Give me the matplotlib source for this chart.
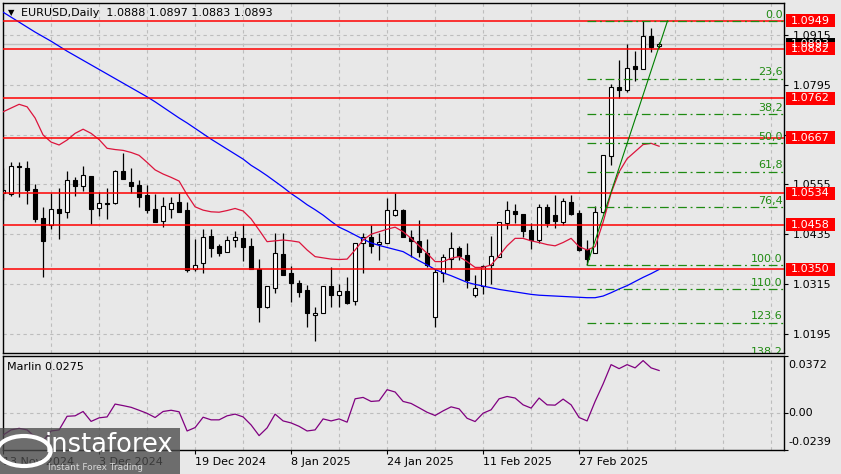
import matplotlib
matplotlib.use("Agg")
import matplotlib.pyplot as plt
from matplotlib.patches import Rectangle, Circle
from matplotlib.transforms import blended_transform_factory

# EURUSD daily bars
opens = [1.0534, 1.0532, 1.0599, 1.0595, 1.0544, 1.0474, 1.0456, 1.0495, 1.0488, 1.0566,
         1.0552, 1.0575, 1.0497, 1.0510, 1.0509, 1.0587, 1.0561, 1.0554, 1.0529, 1.0496,
         1.0468, 1.0496, 1.0512, 1.0493, 1.0352, 1.0365, 1.0431, 1.0407, 1.0391, 1.0420,
         1.0426, 1.0407, 1.0352, 1.0260, 1.0306, 1.0387, 1.0341, 1.0318, 1.0301, 1.0240,
         1.0244, 1.0309, 1.0288, 1.0298, 1.0273, 1.0415, 1.0428, 1.0411, 1.0415, 1.0481,
         1.0493, 1.0428, 1.0419, 1.0390, 1.0235, 1.0342, 1.0375, 1.0401, 1.0384, 1.0289,
         1.0309, 1.0361, 1.0381, 1.0463, 1.0491, 1.0483, 1.0445, 1.0421, 1.0500, 1.0481,
         1.0465, 1.0512, 1.0487, 1.0399, 1.0389, 1.0488, 1.0624, 1.0789, 1.0782, 1.0840,
         1.0834, 1.0913, 1.0888]
highs = [1.0595, 1.0608, 1.0609, 1.0611, 1.0556, 1.0501, 1.0534, 1.0546, 1.0587, 1.0572,
         1.0599, 1.0576, 1.0537, 1.0547, 1.0590, 1.0631, 1.0594, 1.0566, 1.0554, 1.0532,
         1.0525, 1.0524, 1.0534, 1.0513, 1.0423, 1.0447, 1.0447, 1.0411, 1.0431, 1.0443,
         1.0460, 1.0425, 1.0375, 1.0310, 1.0437, 1.0437, 1.0358, 1.0325, 1.0313, 1.0259,
         1.0310, 1.0355, 1.0315, 1.0333, 1.0415, 1.0437, 1.0457, 1.0437, 1.0522, 1.0534,
         1.0495, 1.0445, 1.0469, 1.0423, 1.0350, 1.0387, 1.0441, 1.0407, 1.0413, 1.0337,
         1.0361, 1.0431, 1.0464, 1.0515, 1.0508, 1.0483, 1.0461, 1.0507, 1.0507, 1.0529,
         1.0522, 1.0529, 1.0493, 1.0421, 1.0503, 1.0627, 1.0797, 1.0855, 1.0893, 1.0877,
         1.0949, 1.0931, 1.0897]
lows = [1.0517, 1.0528, 1.0525, 1.0507, 1.0464, 1.0333, 1.0448, 1.0423, 1.0475, 1.0528,
        1.0540, 1.0460, 1.0479, 1.0472, 1.0507, 1.0567, 1.0534, 1.0500, 1.0487, 1.0464,
        1.0453, 1.0475, 1.0489, 1.0345, 1.0346, 1.0342, 1.0381, 1.0383, 1.0391, 1.0405,
        1.0371, 1.0350, 1.0224, 1.0256, 1.0294, 1.0337, 1.0272, 1.0283, 1.0212, 1.0178,
        1.0244, 1.0260, 1.0259, 1.0267, 1.0264, 1.0342, 1.0390, 1.0373, 1.0413, 1.0479,
        1.0429, 1.0381, 1.0379, 1.0357, 1.0211, 1.0321, 1.0352, 1.0373, 1.0305, 1.0284,
        1.0291, 1.0315, 1.0381, 1.0447, 1.0461, 1.0428, 1.0399, 1.0415, 1.0452, 1.0449,
        1.0457, 1.0481, 1.0395, 1.0361, 1.0389, 1.0486, 1.0602, 1.0762, 1.0778, 1.0805,
        1.0834, 1.0875, 1.0883]
closes = [1.0542, 1.0599, 1.0596, 1.0542, 1.0472, 1.0419, 1.0495, 1.0487, 1.0565, 1.0552,
          1.0578, 1.0496, 1.0510, 1.0507, 1.0587, 1.0567, 1.0552, 1.0525, 1.0493, 1.0464,
          1.0502, 1.0509, 1.0489, 1.0349, 1.0362, 1.0428, 1.0402, 1.0390, 1.0420, 1.0428,
          1.0405, 1.0350, 1.0260, 1.0310, 1.0390, 1.0337, 1.0317, 1.0296, 1.0244, 1.0246,
          1.0309, 1.0288, 1.0298, 1.0270, 1.0415, 1.0428, 1.0407, 1.0416, 1.0493, 1.0493,
          1.0429, 1.0419, 1.0391, 1.0362, 1.0343, 1.0379, 1.0401, 1.0382, 1.0325, 1.0305,
          1.0359, 1.0382, 1.0464, 1.0493, 1.0483, 1.0443, 1.0421, 1.0500, 1.0461, 1.0468,
          1.0515, 1.0483, 1.0397, 1.0375, 1.0489, 1.0626, 1.0789, 1.0782, 1.0835, 1.0834,
          1.0913, 1.0887, 1.0893]

# moving averages
ma_slow = [1.0970, 1.0958, 1.0946, 1.0934, 1.0922, 1.0911, 1.0900, 1.0888, 1.0876, 1.0865,
           1.0854, 1.0843, 1.0832, 1.0821, 1.0810, 1.0799, 1.0788, 1.0777, 1.0766, 1.0754,
           1.0741, 1.0728, 1.0715, 1.0703, 1.0690, 1.0677, 1.0664, 1.0652, 1.0640, 1.0628,
           1.0616, 1.0601, 1.0589, 1.0576, 1.0562, 1.0548, 1.0533, 1.0520, 1.0506, 1.0494,
           1.0481, 1.0466, 1.0452, 1.0443, 1.0433, 1.0423, 1.0414, 1.0408, 1.0403, 1.0398,
           1.0393, 1.0382, 1.0371, 1.0361, 1.0350, 1.0342, 1.0335, 1.0327, 1.0319, 1.0314,
           1.0310, 1.0306, 1.0302, 1.0299, 1.0296, 1.0293, 1.0290, 1.0288, 1.0287, 1.0286,
           1.0285, 1.0284, 1.0283, 1.0282, 1.0282, 1.0286, 1.0294, 1.0303, 1.0311, 1.0321,
           1.0331, 1.0340, 1.0350]
ma_fast = [1.0730, 1.0739, 1.0748, 1.0742, 1.0715, 1.0674, 1.0657, 1.0650, 1.0662, 1.0678,
           1.0688, 1.0678, 1.0663, 1.0642, 1.0639, 1.0637, 1.0632, 1.0625, 1.0608, 1.0590,
           1.0580, 1.0572, 1.0563, 1.0530, 1.0501, 1.0493, 1.0489, 1.0488, 1.0492, 1.0497,
           1.0491, 1.0472, 1.0445, 1.0417, 1.0419, 1.0421, 1.0419, 1.0416, 1.0397, 1.0381,
           1.0378, 1.0375, 1.0374, 1.0375, 1.0397, 1.0421, 1.0435, 1.0441, 1.0447, 1.0452,
           1.0441, 1.0425, 1.0407, 1.0389, 1.0369, 1.0369, 1.0377, 1.0381, 1.0369, 1.0355,
           1.0355, 1.0361, 1.0383, 1.0407, 1.0425, 1.0425, 1.0419, 1.0415, 1.0410, 1.0407,
           1.0415, 1.0425, 1.0405, 1.0397, 1.0405, 1.0464, 1.0534, 1.0585, 1.0617, 1.0634,
           1.0651, 1.0654, 1.0647]

# Marlin oscillator
marlin = [-0.0142, -0.0109, -0.0099, -0.0109, -0.0155, -0.0181, -0.0116, -0.0109, -0.0021, -0.0018,
          0.0010, -0.0054, -0.0031, -0.0025, 0.0058, 0.0048, 0.0037, 0.0018, -0.0002, -0.0029,
          0.0010, 0.0018, 0.0008, -0.0116, -0.0094, -0.0027, -0.0044, -0.0044, -0.0018, -0.0007,
          -0.0025, -0.0077, -0.0146, -0.0096, -0.0007, -0.0051, -0.0064, -0.0086, -0.0116, -0.0109,
          -0.0038, -0.0051, -0.0038, -0.0059, 0.0092, 0.0101, 0.0075, 0.0079, 0.0151, 0.0136,
          0.0075, 0.0062, 0.0034, 0.0005, -0.0016, 0.0014, 0.0040, 0.0027, -0.0034, -0.0055,
          -0.0001, 0.0021, 0.0092, 0.0107, 0.0097, 0.0053, 0.0032, 0.0097, 0.0053, 0.0051,
          0.0090, 0.0053, -0.0029, -0.0051, 0.0075, 0.0188, 0.0313, 0.0287, 0.0313, 0.0292,
          0.0339, 0.0292, 0.0275]

date_labels = ["13 Nov 2024", "3 Dec 2024", "19 Dec 2024", "8 Jan 2025",
               "24 Jan 2025", "11 Feb 2025", "27 Feb 2025"]
date_bars = [0, 12, 24, 36, 48, 60, 72]

price_ticks = [1.0195, 1.0315, 1.0435, 1.0555, 1.0675, 1.0795, 1.0915]
levels = [1.0949, 1.0882, 1.0762, 1.0667, 1.0534, 1.0458, 1.0350]
level_labels = ["1.0949", "1.0882", "1.0762", "1.0667", "1.0534", "1.0458", "1.0350"]

fib_labels = ["0.0", "23,6", "38,2", "50,0", "61,8", "76,4", "100.0", "110.0", "123.6", "138.2"]
fib_prices = [1.0949, 1.0810, 1.0724, 1.0655, 1.0586, 1.0500, 1.0361, 1.0302, 1.0222, 1.0136]
fib_start = 73
trend_x = [73, 83.05]
trend_y = [1.0361, 1.0949]

bid = 1.0893
marlin_ticks = [0.0372, 0.0, -0.0239]
marlin_labels = ["0.0372", "0.00", "-0.0239"]

BG = "#e8e8e8"
GRID = "#bdbdbd"
FIB = "#1f8a12"

plt.rcParams["font.family"] = "DejaVu Sans"
plt.rcParams["font.size"] = 7.5

W, H = 841, 474
fig = plt.figure(figsize=(W / 100, H / 100), dpi=100, facecolor=BG)

left, right = 2.7, 784.3
ax = fig.add_axes([left / W, 1 - 353 / H, (right - left) / W, (353 - 2.5) / H], facecolor=BG)
ax2 = fig.add_axes([left / W, 1 - 450 / H, (right - left) / W, (450 - 355.5) / H], facecolor=BG)

n = len(opens)
xlim = (-0.05, 97.65)

# ---- main price panel ----
ax.set_xlim(*xlim)
ax.set_ylim(1.014875, 1.099332)

grid_bars = list(range(6, 98, 6))
for gx in grid_bars:
    ax.axvline(gx, color=GRID, lw=0.8, ls=(0, (3, 3)), zorder=0.5)
    ax2.axvline(gx, color=GRID, lw=0.8, ls=(0, (3, 3)), zorder=0.5)
for gy in price_ticks:
    ax.axhline(gy, color=GRID, lw=0.8, ls=(0, (3, 3)), zorder=0.5)

ax.axhline(bid, color="#c0c0c0", lw=1.0, zorder=0.8)

for i in range(n):
    o, h, l, c = opens[i], highs[i], lows[i], closes[i]
    ax.vlines(i, l, h, color="black", lw=0.9, zorder=2)
    bottom = min(o, c)
    height = max(abs(c - o), 0.00003)
    face = "white" if c >= o else "black"
    ax.add_patch(Rectangle((i - 0.24, bottom), 0.48, height, facecolor=face,
                           edgecolor="black", lw=0.8, zorder=2.1))

x = list(range(n))
ax.plot(x, ma_slow, color="#0000ff", lw=0.9, zorder=3)
ax.plot(x, ma_fast, color="#dc143c", lw=0.9, zorder=3)

for lv in levels:
    ax.axhline(lv, color="#ff0000", lw=1.1, zorder=4)

# fibonacci retracement
for lbl, p in zip(fib_labels, fib_prices):
    ax.hlines(p, fib_start, xlim[1], color=FIB, lw=0.9, ls=(0, (7, 3, 1.5, 3)), zorder=5)
    ax.annotate(lbl, xy=(0.998, p), xycoords=("axes fraction", "data"),
                xytext=(0, 1), textcoords="offset points", ha="right", va="bottom",
                color=FIB, fontsize=8, annotation_clip=False, clip_on=True, zorder=6)
ax.plot(trend_x, trend_y, color="#008000", lw=0.8, zorder=5)

# right price scale
ax.yaxis.tick_right()
ax.set_yticks(price_ticks)
ax.set_yticklabels([f"{t:.4f}" for t in price_ticks])
ax.tick_params(axis="y", length=3, pad=3, labelsize=8, colors="black")
ax.set_xticks([])

tr = blended_transform_factory(fig.transFigure, ax.transData)
box_h = 0.00312
bx0, bx1 = 786 / W, 835 / W


def price_box(p, text, color):
    ax.add_patch(Rectangle((bx0, p - box_h / 2), bx1 - bx0, box_h, transform=tr,
                           facecolor=color, edgecolor="none", clip_on=False, zorder=7))
    ax.text((bx0 + bx1) / 2, p, text, transform=tr, ha="center", va="center",
            color="white", fontsize=8, clip_on=False, zorder=8)


price_box(bid, f"{bid:.4f}", "black")
for lv, lt in zip(levels, level_labels):
    price_box(lv, lt, "#ff0000")

for s in ax.spines.values():
    s.set_color("black")
    s.set_linewidth(1)

# title
fig.text(8 / W, 1 - 12.5 / H, "\u25bc", fontsize=6, va="center", ha="left")
fig.text(21 / W, 1 - 12.5 / H, "EURUSD,Daily  1.0888 1.0897 1.0883 1.0893",
         fontsize=8, va="center", ha="left")

# ---- Marlin panel ----
ax2.set_xlim(*xlim)
ax2.set_ylim(-0.0239, 0.0372)
ax2.axhline(0, color=GRID, lw=0.8, ls=(0, (3, 3)), zorder=0.5)
ax2.plot(x, marlin, color="#800080", lw=0.9, zorder=3)
ax2.text(0.006, 0.88, f"Marlin {marlin[-1]:.4f}", transform=ax2.transAxes,
         fontsize=8, va="center", ha="left")

ax2.yaxis.tick_right()
ax2.set_yticks(marlin_ticks)
ax2.set_yticklabels([])
ax2.tick_params(axis="y", length=3)
for lbl, yy in zip(marlin_labels, [0.90, 0.39, 0.085]):
    ax2.text(1.005, yy, lbl, transform=ax2.transAxes, fontsize=8, va="center", ha="left")

ax2.set_xticks(date_bars)
ax2.set_xticklabels(date_labels)
ax2.tick_params(axis="x", length=3, pad=2, labelsize=8)
for t in ax2.get_xticklabels():
    t.set_ha("left")
for s in ax2.spines.values():
    s.set_color("black")
    s.set_linewidth(1)

# watermark
fig.patches.append(Rectangle((0, 0), 180 / W, 46 / H, transform=fig.transFigure,
                             facecolor="#4a4a4a", alpha=0.78, edgecolor="none", zorder=10))
fig.patches.append(Circle((24 / W, 23 / H), 15 / H, transform=fig.transFigure,
                          facecolor="none", edgecolor="white", lw=3, zorder=11))
fig.text(45 / W, 29 / H, "instaforex", color="white", fontsize=18.5, va="center",
         ha="left", zorder=12)
fig.text(48 / W, 7 / H, "Instant Forex Trading", color="#d8d8d8", fontsize=6.5,
         va="center", ha="left", zorder=12)

fig.savefig("out.png", dpi=100, facecolor=BG)
